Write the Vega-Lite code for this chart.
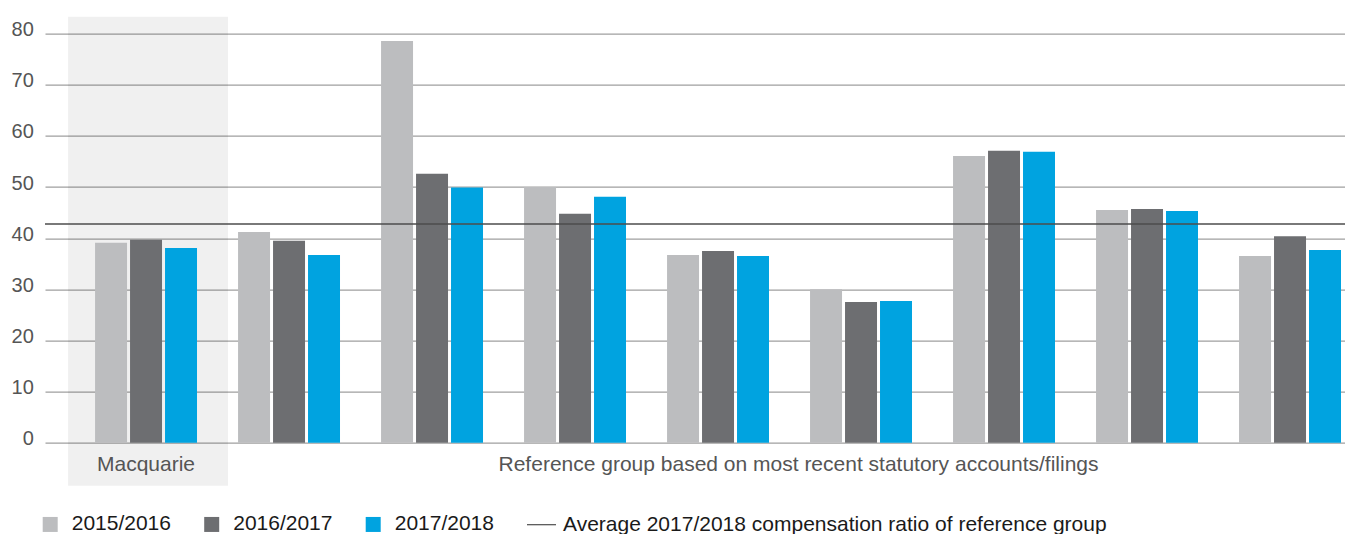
{
  "$schema": "https://vega.github.io/schema/vega-lite/v6.json",
  "width": 1300,
  "height": 469,
  "autosize": {"type": "none"},
  "padding": {"left": 45, "top": 16.7, "right": 0, "bottom": 48.3},
  "config": {"view": {"stroke": null}, "font": "Liberation Sans"},
  "layer": [
    {
      "data": {"values": [{"company": "Macquarie"}]},
      "mark": {"type": "bar", "width": 160, "xOffset": 2, "color": "#000000", "opacity": 0.06},
      "encoding": {
        "x": {"field": "company", "type": "nominal", "axis": null,
          "scale": {"domain": ["Macquarie", "Peer 1", "Peer 2", "Peer 3", "Peer 4", "Peer 5", "Peer 6", "Peer 7", "Peer 8"],
            "paddingInner": 0.287, "paddingOuter": 0.189, "align": 0.926}}
      }
    },
    {
      "data": {"values": [
        {"company": "Macquarie", "year": "2015/2016", "value": 39.1},
        {"company": "Macquarie", "year": "2016/2017", "value": 39.7},
        {"company": "Macquarie", "year": "2017/2018", "value": 38.1},
        {"company": "Peer 1", "year": "2015/2016", "value": 41.2},
        {"company": "Peer 1", "year": "2016/2017", "value": 39.5},
        {"company": "Peer 1", "year": "2017/2018", "value": 36.7},
        {"company": "Peer 2", "year": "2015/2016", "value": 78.6},
        {"company": "Peer 2", "year": "2016/2017", "value": 52.6},
        {"company": "Peer 2", "year": "2017/2018", "value": 49.9},
        {"company": "Peer 3", "year": "2015/2016", "value": 50.0},
        {"company": "Peer 3", "year": "2016/2017", "value": 44.8},
        {"company": "Peer 3", "year": "2017/2018", "value": 48.1},
        {"company": "Peer 4", "year": "2015/2016", "value": 36.7},
        {"company": "Peer 4", "year": "2016/2017", "value": 37.5},
        {"company": "Peer 4", "year": "2017/2018", "value": 36.5},
        {"company": "Peer 5", "year": "2015/2016", "value": 30.0},
        {"company": "Peer 5", "year": "2016/2017", "value": 27.5},
        {"company": "Peer 5", "year": "2017/2018", "value": 27.7},
        {"company": "Peer 6", "year": "2015/2016", "value": 56.1},
        {"company": "Peer 6", "year": "2016/2017", "value": 57.1},
        {"company": "Peer 6", "year": "2017/2018", "value": 56.9},
        {"company": "Peer 7", "year": "2015/2016", "value": 45.5},
        {"company": "Peer 7", "year": "2016/2017", "value": 45.7},
        {"company": "Peer 7", "year": "2017/2018", "value": 45.3},
        {"company": "Peer 8", "year": "2015/2016", "value": 36.5},
        {"company": "Peer 8", "year": "2016/2017", "value": 40.4},
        {"company": "Peer 8", "year": "2017/2018", "value": 37.7}
      ]},
      "mark": {"type": "bar"},
      "encoding": {
        "x": {"field": "company", "type": "nominal", "axis": null},
        "xOffset": {"field": "year", "type": "nominal", "scale": {"paddingInner": 0.0857, "paddingOuter": 0}},
        "y": {"field": "value", "type": "quantitative",
          "scale": {"domain": [-8.41, 83.33], "nice": false, "zero": false},
          "axis": {"title": null, "values": [0, 10, 20, 30, 40, 50, 60, 70, 80], "grid": true,
            "gridColor": "#9f9f9f", "gridWidth": 1.3, "domain": false, "ticks": false, "tickSize": 0,
            "labelPadding": 11.7, "labelFontSize": 20, "labelColor": "#555555",
            "labelBaseline": "alphabetic", "labelOffset": 2, "labelFont": "Liberation Sans"}},
        "y2": {"datum": 0},
        "color": {"field": "year", "type": "nominal",
          "scale": {"domain": ["2015/2016", "2016/2017", "2017/2018"], "range": ["#bcbdbf", "#6d6e71", "#00a3e0"]},
          "legend": {"title": null, "orient": "none", "legendX": -5.3, "legendY": 497, "direction": "horizontal",
            "symbolType": "square", "symbolSize": 225, "symbolStrokeWidth": 0, "labelFontSize": 21,
            "labelFont": "Liberation Sans", "labelColor": "#1a1a1a", "labelOffset": 11, "columnPadding": 29.5, "padding": 0}}
      }
    },
    {
      "data": {"values": [{"avg": 42.8, "series": "Average 2017/2018 compensation ratio of reference group"}]},
      "mark": {"type": "rule", "strokeWidth": 1.5},
      "encoding": {
        "y": {"field": "avg", "type": "quantitative"},
        "stroke": {"field": "series", "type": "nominal",
          "scale": {"range": ["#4d4d4d"]},
          "legend": {"title": null, "orient": "none", "legendX": 481, "legendY": 492.5,
            "symbolType": "stroke", "symbolSize": 841, "symbolStrokeWidth": 1.2, "labelFontSize": 21,
            "labelFont": "Liberation Sans", "labelColor": "#1a1a1a", "labelOffset": 6, "labelLimit": 0, "padding": 0}}
      }
    },
    {
      "data": {"values": [{"company": "Macquarie", "label": "Macquarie"}]},
      "mark": {"type": "text", "fontSize": 21, "color": "#555555", "align": "center", "baseline": "alphabetic"},
      "encoding": {
        "x": {"field": "company", "type": "nominal"},
        "y": {"datum": -5.5},
        "text": {"field": "label"}
      }
    },
    {
      "data": {"values": [{"company": "Peer 4", "label": "Reference group based on most recent statutory accounts/filings"}]},
      "mark": {"type": "text", "fontSize": 21, "color": "#555555", "align": "center", "baseline": "alphabetic", "dx": 80.5},
      "encoding": {
        "x": {"field": "company", "type": "nominal"},
        "y": {"datum": -5.5},
        "text": {"field": "label"}
      }
    }
  ]
}
